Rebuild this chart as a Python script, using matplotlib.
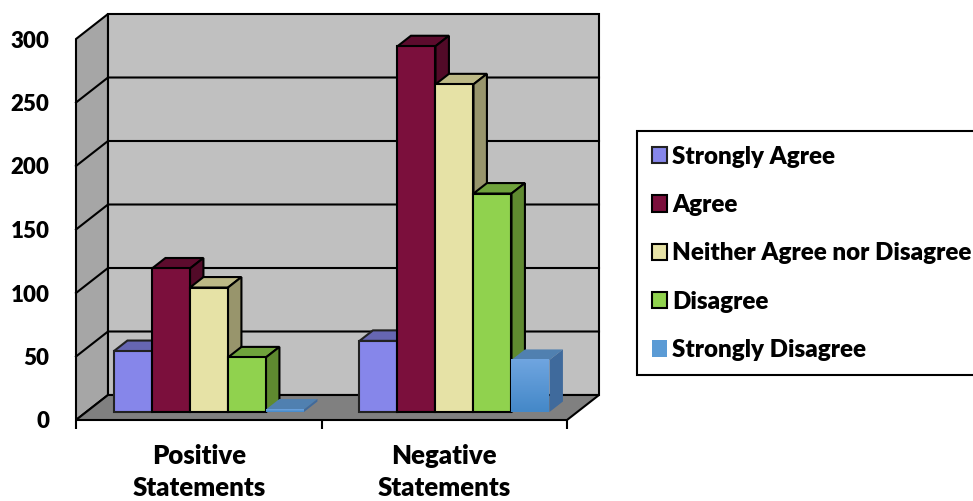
import matplotlib
matplotlib.use("Agg")
import matplotlib.pyplot as plt
import numpy as np
from matplotlib.patches import Patch

groups = ["Positive\nStatements", "Negative\nStatements"]
series = ["Strongly Agree", "Agree", "Neither Agree nor Disagree", "Disagree", "Strongly Disagree"]
strongly_agree = [48, 56]
agree = [113, 288]
neither = [98, 258]
disagree = [43, 172]
strongly_disagree = [2, 41]
yticks = [0, 50, 100, 150, 200, 250, 300]

front_cols = ["#8686ea", "#7b0f3c", "#e6e2a6", "#90d24e", "#5b9bd5"]
top_cols = ["#6666b2", "#5c0b2d", "#bdb986", "#6fa23c", "#5080b0"]
side_cols = ["#5c5ca0", "#520a28", "#98956c", "#5f8a30", "#3f6a9c"]
edge_cols = ["#222222", "k", "k", "k", "none"]

W, H = 973, 501
px_x = 245.5  # pixels per group
px_y = 381 / 300
dx = 32 / px_x  # full depth of the box in data units
dy = 25 / px_y
bar_w = 38 / px_x
d0, d1 = 0.32, 0.74  # where the bars sit in the depth

fig = plt.figure(figsize=(W / 100, H / 100), dpi=100)
ax = fig.add_axes([76 / W, (H - 420) / H, 491 / W, 381 / H])
ax.set_xlim(0, 2)
ax.set_ylim(0, 300)
for s in ax.spines.values():
    s.set_visible(False)

lw = 1.5
# walls and floor
ax.fill([0, dx, dx, 0], [0, dy, 300 + dy, 300], fc="#a6a6a6", ec="k", lw=lw, clip_on=False, zorder=1)
ax.fill([dx, 2 + dx, 2 + dx, dx], [dy, dy, 300 + dy, 300 + dy], fc="#c0c0c0", ec="k", lw=lw, clip_on=False, zorder=1)
ax.fill([0, 2, 2 + dx, dx], [0, 0, dy, dy], fc="#808080", ec="k", lw=lw, clip_on=False, zorder=2)
for v in yticks[1:-1]:
    ax.plot([0, dx, 2 + dx], [v, v + dy, v + dy], color="k", lw=lw, clip_on=False, zorder=2)

values = [strongly_agree, agree, neither, disagree, strongly_disagree]
z = 3
for g in range(len(groups)):
    left = g + 0.5 - 2.5 * bar_w + d0 * dx
    for i, vals in enumerate(values):
        x0 = left + i * bar_w
        x1 = x0 + bar_w
        top = vals[g]
        base = d0 * dy
        shift = (d1 - d0)
        ax.fill([x0, x0 + shift * dx, x1 + shift * dx, x1],
                [base + top, base + top + shift * dy, base + top + shift * dy, base + top],
                fc=top_cols[i], ec=edge_cols[i], lw=lw, clip_on=False, zorder=z)
        ax.fill([x1, x1 + shift * dx, x1 + shift * dx, x1],
                [base, base + shift * dy, base + top + shift * dy, base + top],
                fc=side_cols[i], ec=edge_cols[i], lw=lw, clip_on=False, zorder=z)
        if i == 4:
            # front of the last series has a light gradient
            grad = np.linspace(0, 1, 50).reshape(-1, 1)
            cm = matplotlib.colors.LinearSegmentedColormap.from_list("b", ["#6fa5e0", "#4488c8"])
            ax.imshow(grad, extent=[x0, x1, base, base + top], origin="upper", cmap=cm,
                      aspect="auto", clip_on=False, zorder=z)
        else:
            ax.fill([x0, x1, x1, x0], [base, base, base + top, base + top],
                    fc=front_cols[i], ec=edge_cols[i], lw=lw, clip_on=False, zorder=z)
        z += 1
ax.set_xlim(0, 2)
ax.set_ylim(0, 300)

ax.set_yticks(yticks)
ax.set_yticklabels(yticks, family="Lato", fontweight=800, fontsize=16)
ax.tick_params(axis="y", length=0, pad=19)
ax.set_xticks([0, 1, 2])
ax.set_xticklabels([])
ax.tick_params(axis="x", which="major", length=6.5, width=1.5)
ax.set_xticks([0.5, 1.5], minor=True)
ax.set_xticklabels(groups, minor=True, linespacing=1.44, family="Lato", fontweight=800, fontsize=18.5)
ax.tick_params(axis="x", which="minor", length=0, pad=17)

handles = [Patch(fc=front_cols[i], ec=edge_cols[i], lw=1.5) for i in range(5)]
leg = fig.legend(handles, series, loc="upper left", bbox_to_anchor=(637 / W, (H - 131) / H),
                 borderaxespad=0, fancybox=False, framealpha=1, edgecolor="k",
                 prop=dict(family="Lato", weight=800, size=17.4),
                 handlelength=0.66, handleheight=0.66, handletextpad=0.2,
                 labelspacing=1.09, borderpad=0.6)
leg.get_frame().set_linewidth(1.5)

fig.savefig("out.png", dpi=100)
